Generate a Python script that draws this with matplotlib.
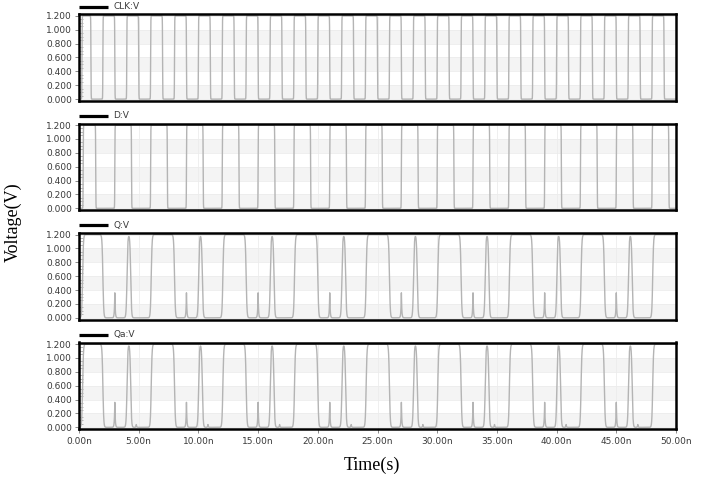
import numpy as np
import matplotlib
matplotlib.use('Agg')
import matplotlib.pyplot as plt
from matplotlib.ticker import MultipleLocator, FixedLocator

# --- data (times in ns, levels in V) ---
names = ['CLK:V', 'D:V', 'Q:V', 'Qa:V']
v_high = 1.2

# CLK: high intervals (start, end)
clk_high = [(0.25, 1.0), (2.0, 3.0), (4.0, 5.0), (6.0, 7.0), (8.0, 9.0),
            (10.0, 11.0), (12.0, 13.0), (14.0, 15.0), (16.0, 17.0), (18.0, 19.0),
            (20.0, 21.0), (22.0, 23.0), (24.0, 25.0), (26.0, 27.0), (28.0, 29.0),
            (30.0, 31.0), (32.0, 33.0), (34.0, 35.0), (36.0, 37.0), (38.0, 39.0),
            (40.0, 41.0), (42.0, 43.0), (44.0, 45.0), (46.0, 47.0), (48.0, 49.0)]

# D: high intervals
d_high = [(0.35, 1.4), (3.0, 4.4), (6.0, 7.4), (9.0, 10.4), (12.0, 13.4),
          (15.0, 16.4), (18.0, 19.4), (21.0, 22.4), (24.0, 25.4), (27.0, 28.4),
          (30.0, 31.4), (33.0, 34.4), (36.0, 37.4), (39.0, 40.4), (42.0, 43.4),
          (45.0, 46.4), (48.0, 49.4)]

# Q / Qa: high intervals, narrow pulses and partial glitches (time, peak)
q_high = [(0.3, 2.0), (6.05, 8.0), (12.05, 14.0), (18.05, 20.0), (24.05, 26.0),
          (30.05, 32.0), (36.05, 38.0), (42.05, 44.0), (48.05, 50.5)]
q_pulse = [(4.02, 4.33), (10.02, 10.33), (16.02, 16.33), (22.02, 22.33),
           (28.02, 28.33), (34.02, 34.33), (40.02, 40.33), (46.02, 46.33)]
q_spike = [(3.0, 0.36), (9.0, 0.36), (15.0, 0.36), (21.0, 0.36),
           (27.0, 0.36), (33.0, 0.36), (39.0, 0.36), (45.0, 0.36)]
qa_blip = [(4.8, 0.04), (10.8, 0.04), (16.8, 0.04), (22.8, 0.04),
           (28.8, 0.04), (34.8, 0.04), (40.8, 0.04), (46.8, 0.04)]

yticks = [0.0, 0.2, 0.4, 0.6, 0.8, 1.0, 1.2]
xticks = [0, 5, 10, 15, 20, 25, 30, 35, 40, 45, 50]

t = np.linspace(0, 50, 20001)


def sig(x):
    return 1.0 / (1.0 + np.exp(-np.clip(x, -60, 60)))


def square(intervals, tau):
    v = np.zeros_like(t)
    for a, b in intervals:
        v += v_high * (sig((t - a) / tau) - sig((t - b) / tau))
    return v


def spikes(lst, w):
    v = np.zeros_like(t)
    for c, h in lst:
        v += h * np.exp(-np.abs(t - c) / w)
    return v


clk = square(clk_high, 0.008)
d = square(d_high, 0.008)
q = square(q_high + q_pulse, 0.035) + spikes(q_spike, 0.035)
qa = q + spikes(qa_blip, 0.03)
signals = [clk, d, q, qa]

# --- figure ---
W, H = 712, 479
fig = plt.figure(figsize=(W / 100, H / 100), dpi=100)
fig.patch.set_facecolor('white')

left, right = 79, 676
tops = [14.3, 123.5, 233.0, 342.5]
height = 86.5

tick_col = '#3a3a3a'
for i, (name, sig_v) in enumerate(zip(names, signals)):
    top = tops[i]
    ax = fig.add_axes([left / W, 1 - (top + height) / H, (right - left) / W, height / H])
    ax.set_xlim(0, 50)
    ax.set_ylim(-0.024, 1.222)

    # alternating light bands
    for y0 in [0.0, 0.4, 0.8]:
        ax.axhspan(y0, y0 + 0.2, color='#f4f4f4', lw=0, zorder=0)
    for y in yticks:
        ax.axhline(y, color='#ececec', lw=0.6, zorder=0.5)
    for x in xticks:
        ax.axvline(x, color='#ececec', lw=0.6, zorder=0.5)

    ax.plot(t, sig_v, color='#b4b4b4', lw=1.0, zorder=2)

    for sp in ax.spines.values():
        sp.set_linewidth(1.8)
        sp.set_color('black')

    ax.yaxis.set_major_locator(FixedLocator(yticks))
    ax.set_yticklabels(['%.3f' % y for y in yticks])
    ax.yaxis.set_minor_locator(MultipleLocator(0.05))
    ax.tick_params(axis='y', which='major', direction='out', length=3, width=0.6,
                   color='#777777', labelsize=6.5, labelcolor=tick_col, pad=2)
    ax.tick_params(axis='y', which='minor', direction='in', length=3, width=0.5,
                   color='#999999')

    if i == len(names) - 1:
        ax.xaxis.set_major_locator(FixedLocator(xticks))
        ax.set_xticklabels(['%.2fn' % x for x in xticks])
        ax.tick_params(axis='x', which='major', direction='out', length=3, width=0.6,
                       color='#777777', labelsize=6.5, labelcolor=tick_col, pad=3)
    else:
        ax.set_xticks([])

    # legend-like header line + name
    ax.plot([0, 29 / (right - left)], [1.088, 1.088], transform=ax.transAxes,
            color='black', lw=2.3, clip_on=False, solid_capstyle='butt')
    ax.text(34 / (right - left), 1.088, name, transform=ax.transAxes,
            fontsize=6.5, color=tick_col, va='center', ha='left')

fig.text(13 / W, 1 - 222 / H, 'Voltage(V)', rotation=90, ha='center', va='center',
         family='Liberation Serif', fontsize=13)
fig.text(372 / W, 1 - 465 / H, 'Time(s)', ha='center', va='center',
         family='Liberation Serif', fontsize=13)

fig.savefig('out.png', dpi=100)
